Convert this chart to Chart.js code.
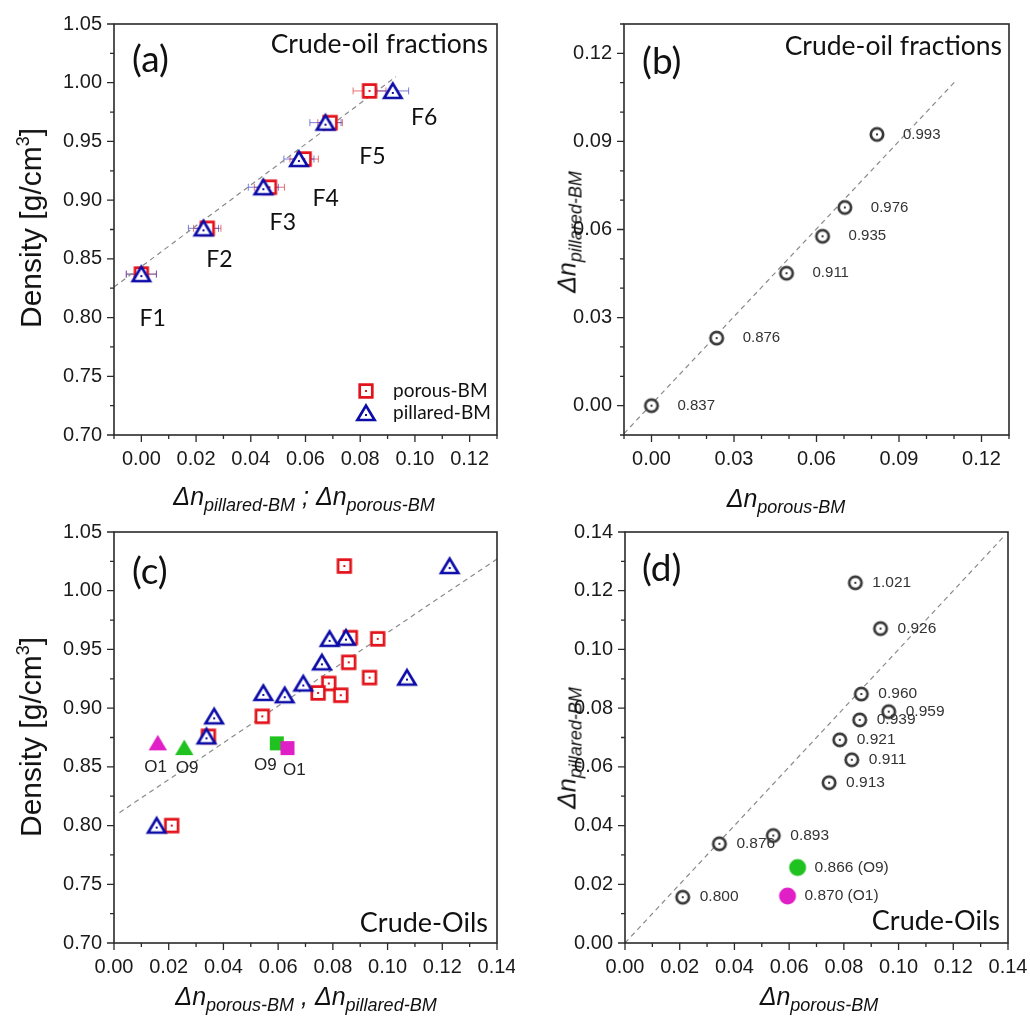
<!DOCTYPE html>
<html lang="en">
<head>
<meta charset="utf-8">
<title>Density vs. refractive-index shift of porous and pillared Bragg mirrors</title>
<script src="https://cdn.jsdelivr.net/npm/chart.js@4.4.1/dist/chart.umd.min.js"></script>
<style>
  html, body { margin: 0; padding: 0; background: #fff; }
  #page { position: relative; width: 1030px; height: 1023px; overflow: hidden; background: #fff; }
  canvas { position: absolute; }
  .title { position: absolute; white-space: nowrap; color: #111; line-height: 1;
           font-family: "Liberation Sans", Arial, sans-serif; }
  .dn { font-style: italic; font-size: 25px; }
  .dn sub { font-size: 18px; vertical-align: baseline; position: relative; top: 6px; }
  .dens { font-size: 30px; }
  .dens sup { font-size: 18px; vertical-align: baseline; position: relative; top: -12px; }
  .xt { transform: translateX(-50%); }
  .yt { transform: translate(-50%, -50%) rotate(-90deg); }
</style>
</head>
<body>
<div id="page">
  <canvas id="ca" width="515" height="490" style="left:0;top:0"></canvas>
  <canvas id="cb" width="515" height="490" style="left:515px;top:0"></canvas>
  <canvas id="cc" width="515" height="490" style="left:0;top:500px"></canvas>
  <canvas id="cd" width="515" height="490" style="left:515px;top:500px"></canvas>

  <div class="title dens yt" style="left:31px;top:228px">Density [g/cm<sup>3</sup>]</div>
  <div class="title dn xt" style="left:304px;top:484px">Δn<sub>pillared-BM</sub> ; Δn<sub>porous-BM</sub></div>
  <div class="title dn yt" style="left:567px;top:232px">Δn<sub>pillared-BM</sub></div>
  <div class="title dn xt" style="left:786px;top:486px">Δn<sub>porous-BM</sub></div>

  <div class="title dens yt" style="left:31px;top:737px">Density [g/cm<sup>3</sup>]</div>
  <div class="title dn xt" style="left:306px;top:984px">Δn<sub>porous-BM</sub> , Δn<sub>pillared-BM</sub></div>
  <div class="title dn yt" style="left:567px;top:748px">Δn<sub>pillared-BM</sub></div>
  <div class="title dn xt" style="left:819px;top:984px">Δn<sub>porous-BM</sub></div>
</div>

<script>
// ---------------- data ----------------
// Crude-oil fractions F1-F6 (panel a)
const fractionNames       = ['F1', 'F2', 'F3', 'F4', 'F5', 'F6'];
const fractionDensity     = [0.837, 0.876, 0.911, 0.935, 0.966, 0.993];
const fractionDnPorous    = [0.0000, 0.0241, 0.0468, 0.0595, 0.0690, 0.0834];
const fractionDnPillared  = [0.0000, 0.0227, 0.0446, 0.0576, 0.0673, 0.0919];
const fractionErrPorous   = [0.0055, 0.0050, 0.0055, 0.0052, 0.0045, 0.0060];
const fractionErrPillared = [0.0055, 0.0055, 0.0055, 0.0055, 0.0057, 0.0058];

// Crude-oil fractions, pillared vs porous shift (panel b)
const pairDnPorous   = [0.0000, 0.0237, 0.0491, 0.0622, 0.0703, 0.0820];
const pairDnPillared = [0.0000, 0.0230, 0.0451, 0.0577, 0.0675, 0.0924];
const pairLabels     = ['0.837', '0.876', '0.911', '0.935', '0.976', '0.993'];

// Crude oils (panels c and d)
const oilDensity    = [1.021, 0.926, 0.960, 0.959, 0.939, 0.921, 0.911, 0.913, 0.893, 0.876, 0.800];
const oilDnPorous   = [0.0842, 0.0934, 0.0864, 0.0964, 0.0858, 0.0785, 0.0829, 0.0746, 0.0542, 0.0345, 0.0211];
const oilDnPillared = [0.1227, 0.1071, 0.0848, 0.0788, 0.0760, 0.0692, 0.0624, 0.0546, 0.0366, 0.0338, 0.0156];

// Highlighted oils O1 and O9
const markedOils          = ['O1', 'O9'];
const markedDensity       = [0.870, 0.866];
const markedDnPillared    = [0.0160, 0.0257];
const markedDnPorous      = [0.0594, 0.0631];
const markedSquareDnPorous = [0.0634, 0.0595];   // porous squares as plotted in panel c
const markedSquareDensity  = [0.866, 0.870];

// Guide lines (two end points each)
const fitA = [[-0.010, 0.826], [0.093, 1.005]];
const fitB = [[-0.010, -0.0095], [0.111, 0.111]];
const fitC = [[0.002, 0.811], [0.140, 1.027]];
const fitD = [[0.000, 0.000], [0.139, 0.139]];

// Label anchors in data coordinates
const fractionLabelAt = [[0.0041, 0.7988], [0.0285, 0.849], [0.0517, 0.8805], [0.0674, 0.901], [0.0845, 0.9367], [0.1034, 0.970]];
const markedTriLabelAt = [[0.0152, 0.850], [0.0267, 0.849]];
const markedSqLabelAt  = [[0.0659, 0.8474], [0.0553, 0.8516]];

// ---------------- styling ----------------
const RED = '#e3131b', BLUE = '#0c0ca8', GREY = '#383838', MAGENTA = '#e01fc6', GREEN = '#1fc21f';
const SANS = '"Liberation Sans", Arial, sans-serif';
const HUMAN = 'Lato, "Open Sans", sans-serif';

function symbol(shape, color, filled) {
  const S = 28, m = S / 2;
  const c = document.createElement('canvas');
  c.width = S; c.height = S;
  const g = c.getContext('2d');
  g.lineWidth = 2.7;
  g.strokeStyle = color;
  g.fillStyle = filled ? color : '#fff';
  g.beginPath();
  if (shape === 'square') {
    const h = filled ? 7 : 6.3;
    g.rect(m - h, m - h, 2 * h, 2 * h);
  } else if (shape === 'triangle') {
    const w = filled ? 9.2 : 8.6;
    g.moveTo(m, m - (filled ? 8.5 : 7.4));
    g.lineTo(m + w, m + 7);
    g.lineTo(m - w, m + 7);
    g.closePath();
  } else {
    g.arc(m, m, filled ? 8.5 : 6.2, 0, Math.PI * 2);
  }
  g.fill();
  if (!filled) {
    g.stroke();
    g.fillStyle = color;
    const dy = shape === 'triangle' ? 2 : 0;
    g.fillRect(m - 1, m - 1 + dy, 2, 2);
  }
  return c;
}

const symSqRed   = symbol('square', RED, false);
const symTriBlue = symbol('triangle', BLUE, false);
const symCircle  = symbol('circle', GREY, false);
const symTriMag  = symbol('triangle', MAGENTA, true);
const symTriGrn  = symbol('triangle', GREEN, true);
const symSqMag   = symbol('square', MAGENTA, true);
const symSqGrn   = symbol('square', GREEN, true);
const symCirMag  = symbol('circle', MAGENTA, true);
const symCirGrn  = symbol('circle', GREEN, true);

const pts = (xs, ys) => xs.map((x, i) => ({ x, y: ys[i] }));
const pairPts = arr => arr.map(([x, y]) => ({ x, y }));
const isMajor = (v, step) => Math.abs(v / step - Math.round(v / step)) < 1e-6;

function scatterSet(data, img, order) {
  return { data, pointStyle: img, pointRadius: 7, showLine: false, order };
}
function guideSet(fit) {
  return { data: pairPts(fit), showLine: true, pointRadius: 0, borderColor: '#8a8a8a',
           borderWidth: 1.2, borderDash: [5, 4], order: 20 };
}

function axis(r, size, horizontal) {
  return {
    type: 'linear', min: r.min, max: r.max,
    grid: { display: false, drawTicks: false },
    border: { display: false },
    ticks: {
      stepSize: r.minor, autoSkip: false, maxRotation: 0, minRotation: 0, padding: 12,
      color: '#1a1a1a', font: { family: SANS, size: 20 },
      callback: v => isMajor(v, r.major) ? (Math.abs(v) < 1e-9 ? 0 : v).toFixed(2) : ''
    },
    afterFit(s) {
      if (horizontal) s.height = size; else s.width = size;
      s.paddingLeft = s.paddingRight = s.paddingTop = s.paddingBottom = 0;
    }
  };
}

// plot frame plus outward major/minor tick marks
function framePlugin(xr, yr) {
  return {
    id: 'frame',
    afterDatasetsDraw(chart) {
      const { ctx, chartArea: a, scales: { x, y } } = chart;
      ctx.save();
      ctx.strokeStyle = '#2a2a2a';
      ctx.lineWidth = 1.6;
      ctx.strokeRect(a.left, a.top, a.right - a.left, a.bottom - a.top);
      ctx.lineWidth = 1.3;
      ctx.beginPath();
      x.ticks.forEach(t => {
        const p = x.getPixelForValue(t.value);
        const len = isMajor(t.value, xr.major) ? 7 : 4;
        ctx.moveTo(p, a.bottom); ctx.lineTo(p, a.bottom + len);
      });
      y.ticks.forEach(t => {
        const p = y.getPixelForValue(t.value);
        const len = isMajor(t.value, yr.major) ? 7 : 4;
        ctx.moveTo(a.left, p); ctx.lineTo(a.left - len, p);
      });
      ctx.stroke();
      ctx.restore();
    }
  };
}

// free text: either anchored to data values or to the plot-area corners
function textPlugin(items) {
  return {
    id: 'texts',
    afterDatasetsDraw(chart) {
      const { ctx, chartArea: a, scales: { x, y } } = chart;
      items.forEach(it => {
        ctx.save();
        ctx.font = it.font;
        ctx.fillStyle = it.color || '#111';
        ctx.textAlign = it.align || 'left';
        ctx.textBaseline = it.base || 'alphabetic';
        let px, py;
        if (it.data) {
          px = x.getPixelForValue(it.data[0]) + (it.dx || 0);
          py = y.getPixelForValue(it.data[1]) + (it.dy || 0);
        } else {
          px = (it.right ? a.right : a.left) + it.dx;
          py = (it.bottom ? a.bottom : a.top) + it.dy;
        }
        ctx.fillText(it.text, px, py);
        ctx.restore();
      });
    }
  };
}

// horizontal error bars drawn under the symbols
function errorPlugin(sets) {
  return {
    id: 'errors',
    beforeDatasetsDraw(chart) {
      const { ctx, scales: { x, y } } = chart;
      ctx.save();
      ctx.lineWidth = 1;
      sets.forEach(s => {
        ctx.strokeStyle = s.color;
        ctx.beginPath();
        s.xs.forEach((v, i) => {
          const x0 = x.getPixelForValue(v - s.err[i]);
          const x1 = x.getPixelForValue(v + s.err[i]);
          const py = y.getPixelForValue(s.ys[i]);
          ctx.moveTo(x0, py); ctx.lineTo(x1, py);
          ctx.moveTo(x0, py - 3.5); ctx.lineTo(x0, py + 3.5);
          ctx.moveTo(x1, py - 3.5); ctx.lineTo(x1, py + 3.5);
        });
        ctx.stroke();
      });
      ctx.restore();
    }
  };
}

// legend inside panel a
const legendPlugin = {
  id: 'keyA',
  afterDatasetsDraw(chart) {
    const { ctx, chartArea: a } = chart;
    ctx.save();
    [[symSqRed, 'porous-BM', -44], [symTriBlue, 'pillared-BM', -22]].forEach(([img, txt, dy]) => {
      ctx.drawImage(img, a.right - 131 - img.width / 2, a.bottom + dy - img.height / 2);
      ctx.font = '19px ' + HUMAN;
      ctx.fillStyle = '#111';
      ctx.textBaseline = 'middle';
      ctx.fillText(txt, a.right - 104, a.bottom + dy);
    });
    ctx.restore();
  }
};

function makeChart(id, box, xr, yr, datasets, plugins) {
  return new Chart(document.getElementById(id), {
    type: 'scatter',
    data: { datasets },
    options: {
      responsive: false, animation: false, events: [],
      layout: { padding: { top: box.top, right: box.right, bottom: 0, left: 0 } },
      plugins: { legend: { display: false }, tooltip: { enabled: false } },
      scales: { x: axis(xr, box.xh, true), y: axis(yr, box.yw, false) }
    },
    plugins: [framePlugin(xr, yr), ...plugins]
  });
}

const densRange = { min: 0.70, max: 1.05, minor: 0.025, major: 0.05 };

// ---------------- (a) ----------------
makeChart('ca', { top: 24, right: 18, xh: 55, yw: 114 },
  { min: -0.01, max: 0.13, minor: 0.01, major: 0.02 }, densRange,
  [
    scatterSet(pts(fractionDnPillared, fractionDensity), symTriBlue, 0),
    scatterSet(pts(fractionDnPorous, fractionDensity), symSqRed, 1),
    guideSet(fitA)
  ],
  [
    errorPlugin([
      { xs: fractionDnPorous, ys: fractionDensity, err: fractionErrPorous, color: 'rgba(222,70,70,0.75)' },
      { xs: fractionDnPillared, ys: fractionDensity, err: fractionErrPillared, color: 'rgba(70,70,205,0.7)' }
    ]),
    textPlugin([
      { text: '(a)', font: '37px ' + HUMAN, dx: 18, dy: 48 },
      { text: 'Crude-oil fractions', font: '26.5px ' + HUMAN, align: 'right', right: true, dx: -9, dy: 29 },
      ...fractionNames.map((n, i) => ({ text: n, font: '23px ' + HUMAN, align: 'center', base: 'middle', data: fractionLabelAt[i] }))
    ]),
    legendPlugin
  ]);

// ---------------- (b) ----------------
makeChart('cb', { top: 24, right: 21, xh: 55, yw: 109 },
  { min: -0.01, max: 0.13, minor: 0.01, major: 0.03 },
  { min: -0.01, max: 0.13, minor: 0.01, major: 0.03 },
  [
    scatterSet(pts(pairDnPorous, pairDnPillared), symCircle, 0),
    guideSet(fitB)
  ],
  [
    textPlugin([
      { text: '(b)', font: '37px ' + HUMAN, dx: 18, dy: 50 },
      { text: 'Crude-oil fractions', font: '26.5px ' + HUMAN, align: 'right', right: true, dx: -7, dy: 31 },
      ...pairLabels.map((t, i) => ({ text: t, font: '15px ' + SANS, color: '#333', base: 'middle',
                                      data: [pairDnPorous[i], pairDnPillared[i]], dx: 26 }))
    ])
  ]);

// ---------------- (c) ----------------
makeChart('cc', { top: 32, right: 18, xh: 47, yw: 114 },
  { min: 0, max: 0.14, minor: 0.01, major: 0.02 }, densRange,
  [
    scatterSet([{ x: markedSquareDnPorous[0], y: markedSquareDensity[0] }], symSqMag, 0),
    scatterSet([{ x: markedSquareDnPorous[1], y: markedSquareDensity[1] }], symSqGrn, 1),
    scatterSet([{ x: markedDnPillared[0], y: markedDensity[0] }], symTriMag, 0),
    scatterSet([{ x: markedDnPillared[1], y: markedDensity[1] }], symTriGrn, 0),
    scatterSet(pts(oilDnPillared, oilDensity), symTriBlue, 2),
    scatterSet(pts(oilDnPorous, oilDensity), symSqRed, 3),
    guideSet(fitC)
  ],
  [
    textPlugin([
      { text: '(c)', font: '37px ' + HUMAN, dx: 18, dy: 52 },
      { text: 'Crude-Oils', font: '27px ' + HUMAN, align: 'right', right: true, bottom: true, dx: -9, dy: -11 },
      ...markedOils.map((n, i) => ({ text: n, font: '17px ' + SANS, color: '#222', align: 'center', base: 'middle', data: markedTriLabelAt[i] })),
      ...markedOils.map((n, i) => ({ text: n, font: '17px ' + SANS, color: '#222', align: 'center', base: 'middle', data: markedSqLabelAt[i] }))
    ])
  ]);

// ---------------- (d) ----------------
makeChart('cd', { top: 32, right: 22, xh: 47, yw: 110 },
  { min: 0, max: 0.14, minor: 0.01, major: 0.02 },
  { min: 0, max: 0.14, minor: 0.01, major: 0.02 },
  [
    scatterSet([{ x: markedDnPorous[0], y: markedDnPillared[0] }], symCirMag, 0),
    scatterSet([{ x: markedDnPorous[1], y: markedDnPillared[1] }], symCirGrn, 0),
    scatterSet(pts(oilDnPorous, oilDnPillared), symCircle, 1),
    guideSet(fitD)
  ],
  [
    textPlugin([
      { text: '(d)', font: '37px ' + HUMAN, dx: 17, dy: 49 },
      { text: 'Crude-Oils', font: '27px ' + HUMAN, align: 'right', right: true, bottom: true, dx: -8, dy: -13 },
      ...oilDensity.map((d, i) => ({ text: d.toFixed(3), font: '15.5px ' + SANS, color: '#333', base: 'middle',
                                      data: [oilDnPorous[i], oilDnPillared[i]], dx: 17 })),
      ...markedOils.map((n, i) => ({ text: markedDensity[i].toFixed(3) + ' (' + n + ')', font: '15.5px ' + SANS, color: '#333',
                                      base: 'middle', data: [markedDnPorous[i], markedDnPillared[i]], dx: 17 }))
    ])
  ]);
</script>
</body>
</html>
